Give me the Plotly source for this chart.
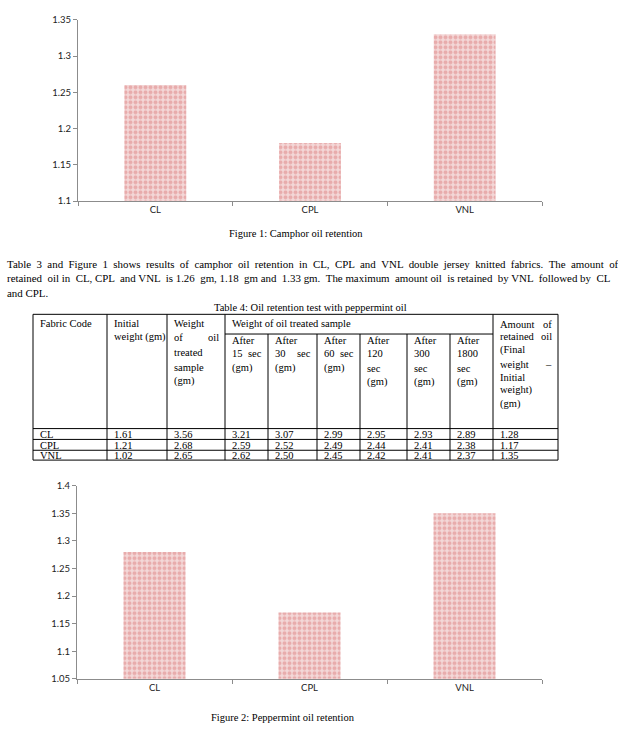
import plotly.graph_objects as go

W, H = 618, 735

# ---------------- data ----------------
fabrics = ["CL", "CPL", "VNL"]
camphor_retained = [1.26, 1.18, 1.33]
peppermint_retained = [1.28, 1.17, 1.35]

initial_weight = [1.61, 1.21, 1.02]
treated_weight = [3.56, 2.68, 2.65]
after_15 = [3.21, 2.59, 2.62]
after_30 = [3.07, 2.52, 2.50]
after_60 = [2.99, 2.49, 2.45]
after_120 = [2.95, 2.44, 2.42]
after_300 = [2.93, 2.41, 2.41]
after_1800 = [2.89, 2.38, 2.37]

fig1_caption = "Figure 1: Camphor oil retention"
fig2_caption = "Figure 2: Peppermint oil retention"
table_title = "Table 4: Oil retention test with peppermint oil"
paragraph = [
    "Table 3 and Figure 1 shows results of camphor oil retention in CL, CPL and VNL double jersey knitted fabrics. The amount of",
    "retained oil in CL, CPL and VNL is 1.26 gm, 1.18 gm and 1.33 gm. The maximum amount oil is retained by VNL followed by CL",
    "and CPL.",
]
# extra non-breaking spaces per word gap to imitate the justified lines
justify_every = [1, 2, 0]


def px(x):
    return x / W


def py(y):
    return 1 - y / H


SERIF = "Liberation Serif"
SANS = "Lato"
AX = "#8c8c8c"

fig = go.Figure()

bar_style = dict(
    marker=dict(
        color="#f3d8d8",
        line=dict(width=0),
        pattern=dict(shape=".", fgcolor="#de8080", size=5, solidity=0.5, fillmode="overlay"),
    ),
    showlegend=False,
    hoverinfo="skip",
)
fig.add_trace(go.Bar(x=fabrics, y=camphor_retained, xaxis="x", yaxis="y", **bar_style))
fig.add_trace(go.Bar(x=fabrics, y=peppermint_retained, xaxis="x2", yaxis="y2", **bar_style))

xax = dict(
    showline=True, linecolor=AX, linewidth=1, ticks="outside", tickcolor=AX, ticklen=4,
    tickson="boundaries", showgrid=False, zeroline=False,
    tickfont=dict(family=SANS, size=9.5, color="#222"),
)
yax = dict(
    showline=True, linecolor=AX, linewidth=1, ticks="outside", tickcolor=AX, ticklen=4,
    showgrid=False, zeroline=False, dtick=0.05,
    tickfont=dict(family=SANS, size=9.5, color="#222"),
)

fig.update_layout(
    width=W, height=H,
    margin=dict(l=0, r=0, t=0, b=0),
    paper_bgcolor="white", plot_bgcolor="white",
    bargap=0.6,
    xaxis=dict(domain=[px(78), px(542)], anchor="y", **xax),
    yaxis=dict(domain=[py(198), py(14)], anchor="x", range=[1.1, 1.35], **yax),
    xaxis2=dict(domain=[px(77), px(542)], anchor="y2", **xax),
    yaxis2=dict(domain=[py(683), py(487)], anchor="x2", range=[1.05, 1.4], **yax),
)

anns = []
shapes = []


def text(x, y, s, anchor="left", size=10.5, family=SERIF):
    anns.append(dict(
        x=px(x), y=py(y), xref="paper", yref="paper", text=s, showarrow=False,
        xanchor=anchor, yanchor="middle", font=dict(family=family, size=size, color="#000"),
    ))


def line(x0, y0, x1, y1):
    shapes.append(dict(
        type="line", xref="paper", yref="paper", x0=px(x0), y0=py(y0), x1=px(x1), y1=py(y1),
        line=dict(color="#000", width=1),
    ))


def justified(s, every):
    if not every:
        return s
    words = s.split(" ")
    out = words[0]
    for i, w in enumerate(words[1:]):
        out += (" \u00a0" if i % every == 0 else " ") + w
    return out


# captions and paragraph
text(296, 231, fig1_caption, anchor="center")
text(283, 722, fig2_caption, anchor="center")
for i, ln in enumerate(paragraph):
    text(5, 262 + i * 14.5, justified(ln, justify_every[i]), size=10.9)
text(310, 306, table_title, anchor="center")

# ---------------- table ----------------
col_edges = [33, 107, 167, 225, 268, 317, 360, 407, 450, 493, 558]
top, sub, head_bot = 313, 333, 429
row_lines = [440, 451, 461]
bottom = row_lines[-1]

line(col_edges[0], top, col_edges[-1], top)
line(col_edges[3], sub, col_edges[9], sub)
line(col_edges[0], head_bot, col_edges[-1], head_bot)
for r in row_lines:
    line(col_edges[0], r, col_edges[-1], r)
for i, x in enumerate(col_edges):
    y0 = sub if 4 <= i <= 8 else top
    line(x, y0, x, bottom)

pad = 5


def cell_lines(ci, ys, lines):
    x0, x1 = col_edges[ci], col_edges[ci + 1]
    for y, ln in zip(ys, lines):
        if isinstance(ln, tuple):
            text(x0 + pad, y, ln[0])
            text(x1 - pad + 1, y, ln[1], anchor="right")
        else:
            text(x0 + pad, y, ln)


cell_lines(0, [322], ["Fabric Code"])
cell_lines(1, [322, 336], ["Initial", "weight (gm)"])
cell_lines(2, [322, 337, 352, 367, 381], ["Weight", ("of", "oil"), "treated", "sample", "(gm)"])
text(col_edges[3] + pad, 322, "Weight of oil treated sample")
for ci, sec in zip([3, 4, 5], ["15", "30", "60"]):
    cell_lines(ci, [340, 353, 367], ["After", (sec, "sec"), "(gm)"])
for ci, sec in zip([6, 7, 8], ["120", "300", "1800"]):
    cell_lines(ci, [340, 353, 368, 382], ["After", sec, "sec", "(gm)"])
cell_lines(9, [323, 336, 349, 364, 377, 390, 404],
           [("Amount", "of"), ("retained", "oil"), "(Final", ("weight", "–"),
            "Initial", "weight)", "(gm)"])

columns = [initial_weight, treated_weight, after_15, after_30, after_60,
           after_120, after_300, after_1800, peppermint_retained]
row_y = [435, 446, 456]
for r, fab in enumerate(fabrics):
    text(col_edges[0] + pad, row_y[r], fab)
    for c, col in enumerate(columns):
        text(col_edges[c + 1] + pad, row_y[r], f"{col[r]:.2f}")

fig.update_layout(annotations=anns, shapes=shapes)
fig.write_html(
    "out.html",
    config={"displayModeBar": False},
    post_script="document.body.style.margin='0';document.body.style.overflow='hidden';",
)
